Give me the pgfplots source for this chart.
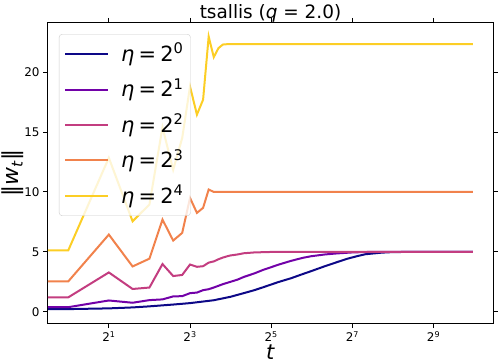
\documentclass[border=0pt]{standalone}
\usepackage{fontspec}
\setmainfont{DejaVu Sans}
\usepackage{pgfplots}
\pgfplotsset{compat=1.18}

\definecolor{c0}{HTML}{0D0887}
\definecolor{c1}{HTML}{7201A8}
\definecolor{c2}{HTML}{C33D80}
\definecolor{c3}{HTML}{F1824C}
\definecolor{c4}{HTML}{FCCE25}

\newcommand{\etaentry}[1]{\hspace*{10bp}\textit{η}\kern0.2em=\kern0.2em2\textsuperscript{#1}}

\begin{document}
\begin{tikzpicture}
\begin{axis}[
  scale only axis, width=445bp, height=300bp,
  xmode=log, log basis x=2,
  xmin=0.7077, xmax=1412.6,
  ymin=-0.94, ymax=24.1,
  xtick={2,8,32,128,512},
  xticklabels={2\textsuperscript{1},2\textsuperscript{3},2\textsuperscript{5},2\textsuperscript{7},2\textsuperscript{9}},
  ytick={0,5,10,15,20},
  xminorticks=false, yminorticks=false,
  /pgf/number format/assume math mode=true,
  tick align=outside, major tick length=5bp,
  tick style={black, line width=0.9bp},
  ticklabel style={font=\fontsize{12}{14}\selectfont},
  xlabel={\textit{t}}, ylabel={‖\textit{w}\textsubscript{\textit{t}}‖},
  label style={font=\fontsize{22}{26}\selectfont},
  xlabel style={font=\fontsize{21}{25}\selectfont, at={([yshift=-36.5bp]axis description cs:0.5,0)}, anchor=base},
  ylabel style={at={([xshift=-29bp]axis description cs:0,0.5)}, anchor=base},
  title={tsallis (\textit{q} = 2.0)},
  title style={font=\fontsize{18.5}{22}\selectfont, at={([yshift=-1bp]axis description cs:0.5,1)}, anchor=base},
  axis line style={line width=1bp},
  every axis plot/.append style={line width=2bp},
  legend cell align=left,
  legend style={at={(0.0247,0.963)}, anchor=north west, fill=white, fill opacity=0.8,
    text opacity=1, draw=black!20, rounded corners=3bp,
    font=\fontsize{21}{25}\selectfont, inner xsep=5bp, inner ysep=2bp, row sep=0bp,
    nodes={text height=23bp, text depth=8.5bp}},
  legend image code/.code={\draw[#1] (0bp,0bp) -- (43bp,0bp);},
]
\addplot[c0] coordinates {(0.5,0.22) (1,0.22) (2,0.28) (3,0.36) (4,0.45) (6,0.6) (8,0.72) (12,0.96) (16,1.25) (20,1.55) (24,1.8) (28,2.05) (36,2.47) (45,2.8) (55,3.15) (63,3.38) (80,3.8) (99,4.15) (117,4.42) (140,4.65) (160,4.8) (210,4.93) (256,4.98) (400,5.0) (1000,5.0)};
\addlegendentry{\etaentry{0}}
\addplot[c1] coordinates {(0.5,0.38) (1,0.38) (2,0.94) (3,0.75) (4,0.97) (5,1.03) (6,1.28) (7,1.3) (8,1.55) (9,1.6) (10,1.8) (11,1.88) (12,2.02) (14,2.3) (16,2.5) (18,2.68) (20,2.9) (24,3.2) (28,3.5) (32,3.72) (36,3.92) (45,4.25) (55,4.5) (63,4.63) (80,4.78) (99,4.87) (128,4.95) (180,5.0) (1000,5.0)};
\addlegendentry{\etaentry{1}}
\addplot[c2] coordinates {(0.5,1.2) (1,1.2) (2,3.28) (3,1.9) (4,2.02) (5,3.98) (6,2.98) (7,3.07) (8,3.94) (9,3.75) (10,3.8) (11,4.1) (12,4.2) (13,4.38) (14,4.52) (15,4.62) (16,4.7) (18,4.78) (20,4.88) (24,4.95) (32,4.99) (48,5.0) (1000,5.0)};
\addlegendentry{\etaentry{2}}
\addplot[c3] coordinates {(0.5,2.53) (1,2.53) (2,6.44) (3,3.78) (4,4.43) (5,7.69) (6,5.94) (7,6.58) (8,9.5) (9,8.25) (10,8.67) (11,10.2) (12,10.0) (1000,10.0)};
\addlegendentry{\etaentry{3}}
\addplot[c4] coordinates {(0.5,5.12) (1,5.12) (2,12.85) (3,7.55) (4,8.95) (5,15.4) (6,11.85) (7,14.5) (8,18.8) (9,16.45) (10,17.7) (11,22.97) (12,21.25) (13,22.0) (14,22.3) (15,22.33) (1000,22.33)};
\addlegendentry{\etaentry{4}}
\end{axis}
\pgfresetboundingbox
\path ([shift={(-48bp,-40bp)}]current axis.south west) rectangle ([shift={(5bp,23bp)}]current axis.north east);
\end{tikzpicture}
\end{document}
